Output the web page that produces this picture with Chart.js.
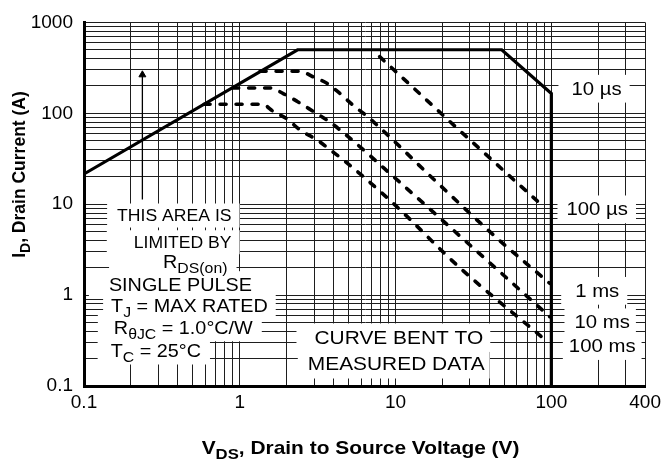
<!DOCTYPE html>
<html>
<head>
<meta charset="utf-8">
<script src="https://cdn.jsdelivr.net/npm/chart.js@4.4.1/dist/chart.umd.min.js"></script>
<style>
  html, body { margin: 0; padding: 0; background: #fff; }
</style>
</head>
<body>
<canvas id="soaChart" width="666" height="463"></canvas>
<script>
// Values (VDS in volts, ID in amps)
const soaV = [0.1, 2.35, 48, 100, 100];
const soaI = [21.5, 500, 500, 165, 0.1];

const us100V = [7.9, 24, 60, 87];
const us100I = [420, 72.3, 17.3, 9.75];

const ms1V = [1.35, 2.45, 2.95, 3.65, 4.4, 5.35, 6.55, 7.75, 18.5, 45, 97.5];
const ms1I = [290, 290, 252, 212, 165, 122, 93, 72, 17.3, 4.2, 1.35];

const ms10V = [0.9, 1.57, 1.9, 2.34, 2.96, 3.64, 4.41, 10.7, 27.1, 97.5];
const ms10I = [190, 190, 165, 135, 105, 84, 65.4, 17.3, 4.16, 0.58];

const ms100V = [0.59, 1.39, 1.64, 2.02, 2.44, 3.14, 3.8, 4.61, 9.5, 26.1, 88];
const ms100I = [126, 126, 105, 86, 65.4, 50.9, 39.6, 30.8, 10.5, 1.97, 0.34];

// little arrow in the RDS(on) region
const arrowV = [0.237, 0.237];
const arrowI = [11.3, 265];

const xTickLabels = [0.1, 1, 10, 100, 400];
const yTickLabels = [0.1, 1, 10, 100, 1000];

// log grid: 1..9 in every decade
const xGrid = [];
[0.1, 1, 10, 100].forEach(d => {
    for (let k = 1; k <= 9; k++) {
        const v = +(d * k).toPrecision(3);
        if (v <= 400) xGrid.push(v);
    }
});
const yGrid = [];
[0.1, 1, 10, 100].forEach(d => {
    for (let k = 1; k <= 9; k++) yGrid.push(+(d * k).toPrecision(3));
});
yGrid.push(1000);

const FONT = '"Liberation Sans", Arial, Helvetica, sans-serif';
const SX = 1.1; // the reference lettering is a bit wide

// text notes placed in data coordinates (x = volts, y = amps at cap centre)
const notes = [
    { parts: [['THIS AREA IS']], x: 0.38, y: 7.6, size: 16, padL: 10, padR: 8 },
    { parts: [['LIMITED BY']], x: 0.43, y: 3.86, size: 16, padL: 27, padR: 8 },
    { parts: [['R'], ['DS(on)', 1]], x: 0.518, y: 2.31, size: 18, padL: 54, padR: 9 },
    { parts: [['SINGLE PULSE']], x: 0.416, y: 1.32, size: 18, padL: 20, padR: 8 },
    { parts: [['T'], ['J', 1], [' = MAX RATED']], x: 0.475, y: 0.769, size: 18, padL: 8, padR: 8 },
    { parts: [['R'], ['\u03B8JC', 1], [' = 1.0\u00B0C/W']], x: 0.434, y: 0.443, size: 18, padL: 16, padR: 9 },
    { parts: [['T'], ['C', 1], [' = 25\u00B0C']], x: 0.289, y: 0.246, size: 18, padL: 13, padR: 9 },
    { parts: [['CURVE BENT TO']], x: 10.5, y: 0.345, size: 19, padL: 18, padR: 7 },
    { parts: [['MEASURED DATA']], x: 10.1, y: 0.176, size: 19, padL: 10, padR: 5 },
    { parts: [['10 \u00B5s']], x: 195, y: 189, size: 18.5, padL: 13, padR: 8 },
    { parts: [['100 \u00B5s']], x: 197, y: 8.9, size: 18.5, padL: 9, padR: 8 },
    { parts: [['1 ms']], x: 197, y: 1.13, size: 18.5, padL: 14, padR: 8 },
    { parts: [['10 ms']], x: 212, y: 0.509, size: 18.5, padL: 10, padR: 6 },
    { parts: [['100 ms']], x: 212, y: 0.279, size: 18.5, padL: 6, padR: 6 }
];

function pts(xs, ys) {
    return xs.map((x, i) => ({ x: x, y: ys[i] }));
}

function partsWidth(ctx, parts, size, bold) {
    let w = 0;
    parts.forEach(p => {
        ctx.font = (bold ? 'bold ' : '') + (p[1] ? size * 0.8 : size) + 'px ' + FONT;
        w += ctx.measureText(p[0]).width;
    });
    return w;
}

function drawParts(ctx, parts, x0, baseline, size, bold) {
    let x = x0;
    ctx.textBaseline = 'alphabetic';
    ctx.textAlign = 'left';
    parts.forEach(p => {
        const s = p[1] ? size * 0.8 : size;
        ctx.font = (bold ? 'bold ' : '') + s + 'px ' + FONT;
        ctx.fillText(p[0], x, p[1] ? baseline + size * 0.27 : baseline);
        x += ctx.measureText(p[0]).width;
    });
}

const notesPlugin = {
    id: 'notes',
    beforeDatasetsDraw(chart) {
        const ctx = chart.ctx;
        const xs = chart.scales.x, ys = chart.scales.y;
        ctx.save();
        ctx.fillStyle = '#fff';
        notes.forEach(n => {
            const cx = xs.getPixelForValue(n.x);
            const cy = ys.getPixelForValue(n.y);
            const w = partsWidth(ctx, n.parts, n.size, false) * SX;
            ctx.fillRect(cx - w / 2 - n.padL, cy - n.size * 0.72, w + n.padL + n.padR, n.size * 1.5);
        });
        ctx.restore();
    },
    afterDatasetsDraw(chart) {
        const ctx = chart.ctx;
        const xs = chart.scales.x, ys = chart.scales.y;
        ctx.save();
        ctx.fillStyle = '#000';
        notes.forEach(n => {
            const cx = xs.getPixelForValue(n.x);
            const cy = ys.getPixelForValue(n.y);
            const w = partsWidth(ctx, n.parts, n.size, false);
            ctx.save();
            ctx.translate(cx, cy);
            ctx.scale(SX, 1);
            drawParts(ctx, n.parts, -w / 2, n.size * 0.358, n.size, false);
            ctx.restore();
        });

        // axis titles (they carry subscripts, so drawn here)
        const area = chart.chartArea;
        const xt = [['V'], ['DS', 1], [', Drain to Source Voltage (V)']];
        const xw = partsWidth(ctx, xt, 19, true);
        ctx.save();
        ctx.translate((area.left + area.right) / 2 - 4, 447.5);
        ctx.scale(SX, 1);
        drawParts(ctx, xt, -xw / 2, 19 * 0.358, 19, true);
        ctx.restore();

        const yt = [['I'], ['D', 1], [', Drain Current (A)']];
        const yw = partsWidth(ctx, yt, 17.5, true);
        ctx.save();
        ctx.translate(19, 174.5);
        ctx.rotate(-Math.PI / 2);
        drawParts(ctx, yt, -yw / 2, 17.5 * 0.358, 17.5, true);
        ctx.restore();
        ctx.restore();
    }
};

const dashed = {
    borderColor: '#000',
    borderWidth: 3.6,
    borderDash: [6, 10],
    borderCapStyle: 'round',
    pointRadius: 0,
    showLine: true,
    cubicInterpolationMode: 'monotone'
};

const tickFont = { family: FONT, size: 19 };
const gridStyle = { color: '#1e1e1e', lineWidth: 1, drawTicks: false };

new Chart(document.getElementById('soaChart'), {
    type: 'scatter',
    data: {
        datasets: [
            { label: '10 us', data: pts(soaV, soaI), borderColor: '#000', borderWidth: 3.2,
              pointRadius: 0, showLine: true, tension: 0, borderJoinStyle: 'miter' },
            Object.assign({ label: '100 us', data: pts(us100V, us100I) }, dashed, { cubicInterpolationMode: 'default', tension: 0 }),
            Object.assign({ label: '1 ms', data: pts(ms1V, ms1I) }, dashed),
            Object.assign({ label: '10 ms', data: pts(ms10V, ms10I) }, dashed),
            Object.assign({ label: '100 ms', data: pts(ms100V, ms100I) }, dashed),
            { label: 'arrow', data: pts(arrowV, arrowI), borderColor: '#000', borderWidth: 1.3,
              showLine: true, pointRadius: [0, 4], pointStyle: 'triangle',
              pointBackgroundColor: '#000', pointBorderColor: '#000', pointBorderWidth: 1 }
        ]
    },
    options: {
        responsive: false,
        devicePixelRatio: 1,
        animation: false,
        layout: { padding: { top: 18, right: 19, bottom: 0, left: 0 } },
        plugins: {
            legend: { display: false },
            tooltip: { enabled: false }
        },
        scales: {
            x: {
                type: 'logarithmic',
                position: 'bottom',
                min: 0.1,
                max: 400,
                afterBuildTicks: s => { s.ticks = xGrid.map(v => ({ value: v })); },
                afterFit: s => { s.height = 77; },
                grid: gridStyle,
                border: { color: '#000', width: 3 },
                ticks: {
                    font: tickFont,
                    color: '#000',
                    padding: 5,
                    autoSkip: false,
                    maxRotation: 0,
                    callback: v => xTickLabels.includes(v) ? String(v) : ''
                }
            },
            y: {
                type: 'logarithmic',
                position: 'left',
                min: 0.1,
                max: 1000,
                afterBuildTicks: s => { s.ticks = yGrid.map(v => ({ value: v })); },
                afterFit: s => { s.width = 84; },
                grid: gridStyle,
                border: { color: '#000', width: 3 },
                ticks: {
                    font: tickFont,
                    color: '#000',
                    padding: 11,
                    autoSkip: false,
                    callback: v => yTickLabels.includes(v) ? String(v) : ''
                }
            }
        }
    },
    plugins: [notesPlugin]
});
</script>
</body>
</html>
